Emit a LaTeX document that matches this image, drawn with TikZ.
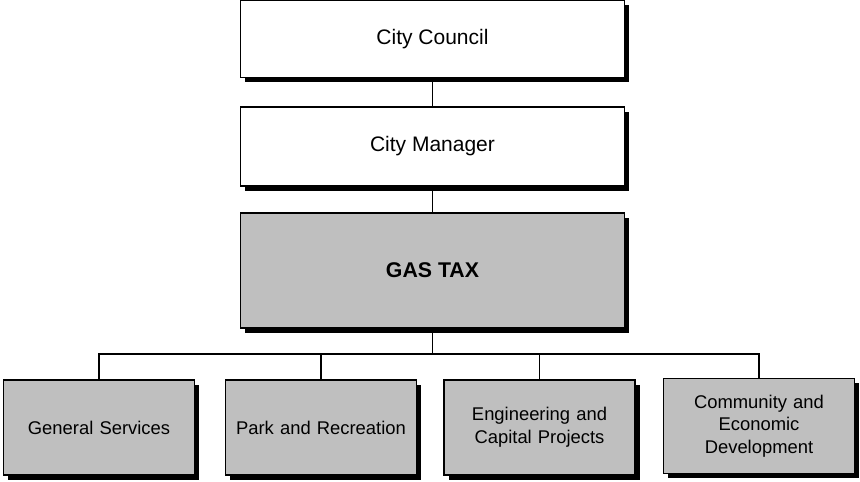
\documentclass[tikz,border=0pt]{standalone}
\usepackage{fontspec}
\setmainfont{Liberation Sans}
\usetikzlibrary{shadows}
\begin{document}
\begin{tikzpicture}[x=1pt,y=-1pt]
			\tikzstyle{box}=[rectangle,draw=black,line width=1.5pt,inner sep=0pt,align=center,
			  drop shadow={shadow xshift=4.5pt,shadow yshift=-4.5pt,fill=black,opacity=1}]
			\tikzstyle{top}=[box,fill=white,minimum width=384pt,font=\fontsize{21}{25}\selectfont]
			\tikzstyle{dept}=[box,fill=gray!50,minimum width=191pt,minimum height=95pt,text width=185pt,font=\fontsize{18.4}{22.7}\selectfont]
			\tikzstyle{link}=[draw=black,line width=1.3pt]
			\useasboundingbox (0,0) rectangle (860,482);
			\begin{scope}
			\node[top,minimum height=77pt] (council) at (432.5,39)  {City Council};
			\node[top,minimum height=79pt] (manager) at (432.5,146.5) {City Manager};
			\node[top,fill=gray!50,minimum height=115pt,font=\fontsize{21.3}{25}\selectfont\bfseries] (gastax) at (432.5,270.5) {GAS TAX};
			\node[dept] (general) at (99,427.5)  {General Services};
			\node[dept] (park) at (321,427.5)  {Park and Recreation};
			\node[dept] (engineering) at (539.5,427.5) {Engineering and\\Capital Projects};
			\node[dept] (community) at (759,426) {Community and\\Economic\\Development};
			\end{scope}
			
			\coordinate (bus) at (432.5,354);
			\path[link]
			(council) -- (manager)
			(manager) -- (gastax)
			(gastax) -- (bus)
			(bus) -| (general)
			(bus) -| (park)
			(bus) -| (engineering)
			(bus) -| (community)
			;
		\end{tikzpicture}
\end{document}
